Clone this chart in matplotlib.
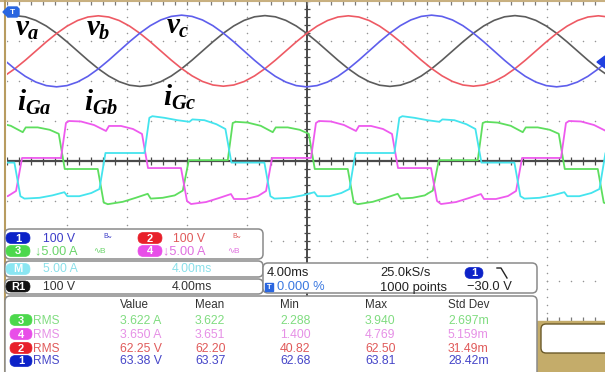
import matplotlib
matplotlib.use("Agg")
import matplotlib.pyplot as plt
import numpy as np
from matplotlib.patches import FancyBboxPatch, Polygon, Rectangle

plt.rcParams["font.family"] = ["Liberation Sans", "DejaVu Sans"]
plt.rcParams["mathtext.fontset"] = "custom"
plt.rcParams["mathtext.it"] = "Liberation Serif:italic:bold"
plt.rcParams["mathtext.rm"] = "Liberation Serif:bold"

# scope settings
time_per_div = 4.0       # ms/div
volt_per_div = 100.0     # V/div
amp_per_div = 5.0        # A/div
volt_offset_div = 2.75   # voltage traces sit 2.75 div above centre
period_ms = 16.667       # 60 Hz

# one period of each phase voltage, every 15 deg starting from its positive peak (V)
va_samples = [88.5, 85.5, 76.6, 62.6, 44.3, 22.9, 0.0, -22.9, -44.3, -62.6, -76.6, -85.5,
              -88.5, -85.5, -76.6, -62.6, -44.3, -22.9, 0.0, 22.9, 44.3, 62.6, 76.6, 85.5]
vb_samples = [88.0, 85.0, 76.2, 62.2, 44.0, 22.8, 0.0, -22.8, -44.0, -62.2, -76.2, -85.0,
              -88.0, -85.0, -76.2, -62.2, -44.0, -22.8, 0.0, 22.8, 44.0, 62.2, 76.2, 85.0]
vc_samples = [89.6, 86.5, 77.6, 63.4, 44.8, 23.2, 0.0, -23.2, -44.8, -63.4, -77.6, -86.5,
              -89.6, -86.5, -77.6, -63.4, -44.8, -23.2, 0.0, 23.2, 44.8, 63.4, 77.6, 86.5]
va_peak_ms = 0.53
vb_peak_ms = 6.09
vc_peak_ms = 11.64

# one period of each grid current, breakpoints from the start of its rising edge (ms, A)
cur_knots_ms = [0.0, 0.33, 0.53, 1.33, 2.2, 3.0, 3.2, 4.0, 4.8, 5.4, 5.8, 8.0, 8.4, 8.67,
                9.67, 10.53, 11.33, 11.53, 12.33, 13.13, 13.67, 14.07, 16.667]
iga_samples = [0.1, 4.75, 4.9, 4.8, 4.4, 3.6, 4.2, 4.2, 3.9, 3.4, -1.0, -1.0, -5.2, -5.4,
               -5.1, -4.6, -4.1, -4.7, -4.6, -4.3, -3.7, 0.1, 0.1]
igb_samples = [0.38, 4.75, 5.0, 4.94, 4.5, 3.75, 4.38, 4.38, 4.0, 3.38, -0.88, -0.88, -5.0,
               -5.38, -5.13, -4.63, -4.13, -4.75, -4.75, -4.38, -3.75, 0.38, 0.38]
igc_samples = [1.0, 5.4, 5.6, 5.4, 5.1, 4.9, 5.2, 5.1, 4.6, 4.0, -0.2, -0.2, -4.4, -4.7,
               -4.6, -4.3, -3.9, -4.4, -4.4, -4.0, -3.5, 1.0, 1.0]
iga_start_ms = -1.95
igb_start_ms = 3.6
igc_start_ms = 9.16

# measurement table
meas_channels = ["3", "4", "2", "1"]
meas_value = ["3.622 A", "3.650 A", "62.25 V", "63.38 V"]
meas_mean = ["3.622", "3.651", "62.20", "63.37"]
meas_min = ["2.288", "1.400", "40.82", "62.68"]
meas_max = ["3.940", "4.769", "62.50", "63.81"]
meas_std = ["2.697m", "5.159m", "31.49m", "28.42m"]

badge_col = {"1": "#0c22c8", "2": "#e8202a", "3": "#4cd84c", "4": "#e84ee8",
             "M": "#8ae6f2", "R1": "#111111"}
text_col = {"1": "#3c3cc8", "2": "#e05a5a", "3": "#6ad46a", "4": "#e070e0",
            "M": "#8ae0ea", "R1": "#333333"}
table_col = {"1": "#4646c8", "2": "#e05a5a", "3": "#80dc80", "4": "#e690e6"}

c_va, c_vb, c_vc = "#5c5c5c", "#ee5a64", "#5e5eec"
c_iga, c_igb, c_igc = "#5ede5e", "#ee5aee", "#44e4ee"
tan = "#c4ac6a"


def tile(t_one, v_one, start, t_end=40.0):
    ts, vs = [], []
    k = -1
    while start + k * period_ms < t_end:
        ts.append(np.asarray(t_one) + start + k * period_ms)
        vs.append(np.asarray(v_one, dtype=float))
        k += 1
    return np.concatenate(ts), np.concatenate(vs)


W, H = 605, 372
fig = plt.figure(figsize=(W / 100, H / 100), dpi=100)
fig.patch.set_facecolor("white")

# ---- scope screen: 10 x 8 divisions ----
ax = fig.add_axes([7 / W, 51 / H, 600 / W, 320 / H])
ax.set_xlim(0, 10 * time_per_div)
ax.set_ylim(-4, 4)
ax.axis("off")
ax.set_zorder(1)

minor_x = np.arange(0, 40.001, 0.2 * time_per_div)
minor_y = np.arange(-4, 4.001, 0.2)
for d in range(1, 10):
    if d == 5:
        continue
    ax.plot(np.full(minor_y.size, d * time_per_div), minor_y, ls="none", marker="o",
            ms=1.1, color="#949494", mew=0)
for d in range(-3, 4):
    if d == 0:
        continue
    ax.plot(minor_x, np.full(minor_x.size, d), ls="none", marker="o", ms=1.1,
            color="#949494", mew=0)

ax.axhline(0, color="#4a4a4a", lw=1.6, zorder=1)
ax.axvline(20, color="#4a4a4a", lw=1.4, zorder=1)
ax.vlines(minor_x, -0.09, 0.09, color="#4a4a4a", lw=0.9)
ax.hlines(minor_y, 20 - 0.22, 20 + 0.22, color="#4a4a4a", lw=0.9)
ax.vlines(minor_x, 3.9, 4.0, color="#7a7a7a", lw=0.9)
ax.vlines(minor_x, -4.0, -3.9, color="#7a7a7a", lw=0.9)

traces_v = [(va_samples, va_peak_ms, c_va), (vb_samples, vb_peak_ms, c_vb),
            (vc_samples, vc_peak_ms, c_vc)]
t_v = np.arange(25) * period_ms / 24
for samples, peak, col in traces_v:
    t, v = tile(t_v, list(samples) + [samples[0]], peak)
    ax.plot(t, v / volt_per_div + volt_offset_div, color=col, lw=1.2, zorder=3)

traces_i = [(iga_samples, iga_start_ms, c_iga), (igb_samples, igb_start_ms, c_igb),
            (igc_samples, igc_start_ms, c_igc)]
for samples, start, col in traces_i:
    t, i = tile(cur_knots_ms, samples, start)
    ax.plot(t, i / amp_per_div, color=col, lw=1.3, zorder=3)

# ---- overlay in pixel coordinates ----
ui = fig.add_axes([0, 0, 1, 1])
ui.set_xlim(0, W)
ui.set_ylim(H, 0)
ui.axis("off")
ui.set_zorder(2)

ui.plot([0, W], [0.7, 0.7], color="#c8b080", lw=1.5)
ui.plot([5, 5], [0, H], color="#b89c60", lw=1.5)

lab = dict(fontsize=21, color="black", va="baseline", ha="left")
ui.text(15, 36, r"$v_a$", **lab)
ui.text(86, 36, r"$v_b$", **lab)
ui.text(166, 34, r"$v_c$", **lab)
ui.text(17, 111, r"$i_{Ga}$", **lab)
ui.text(84, 111, r"$i_{Gb}$", **lab)
ui.text(163, 106, r"$i_{Gc}$", **lab)

# trigger markers
ui.add_patch(Polygon([(3, 12), (8, 7), (17, 7), (19, 9), (19, 15), (17, 17), (8, 17)],
                     closed=True, color="#2a66e0", zorder=5))
ui.text(12.5, 12, "T", color="white", fontsize=6, fontweight="bold", ha="center",
        va="center", zorder=6)
ui.add_patch(Polygon([(597, 62), (605, 56), (605, 68)], closed=True, color="#2040e0", zorder=5))


def rbox(x, y, w, h, fc="white", ec="#8a8a8a", r=5, lw=1.1, z=5):
    ui.add_patch(FancyBboxPatch((x, y), w, h, boxstyle=f"round,pad=0,rounding_size={r}",
                                fc=fc, ec=ec, lw=lw, zorder=z))


def badge(cx, cy, label, w=24, h=11):
    rbox(cx - w / 2, cy - h / 2, w, h, fc=badge_col[label], ec=badge_col[label], r=h / 2,
         lw=0.5, z=6)
    ui.text(cx, cy + 0.5, label, color="white", fontsize=8, fontweight="bold", ha="center",
            va="center", zorder=7)


def label(x, y, s, col, size=8.8, ha="left"):
    ui.text(x, y + 0.5, s, color=col, fontsize=size, ha=ha, va="center", zorder=7)


# channel box
rbox(5, 229, 258, 30)
badge(18, 238, "1")
label(43, 238, "100 V", text_col["1"])
label(103, 236, "B$_{\\mathrm{w}}$", text_col["1"], size=5)
badge(150, 238, "2")
label(173, 238, "100 V", text_col["2"])
label(232, 236, "B$_{\\mathrm{w}}$", text_col["2"], size=5)
badge(18, 251, "3")
label(35, 251, "\u21935.00 A", text_col["3"], size=9.2)
label(93, 251, "\u223fB", text_col["3"], size=6)
badge(150, 251, "4")
label(163, 251, "\u21935.00 A", text_col["4"], size=9.2)
label(227, 251, "\u223fB", text_col["4"], size=6)

rbox(5, 261, 258, 16)
badge(18, 269, "M")
label(43, 269, "5.00 A", text_col["M"])
label(172, 269, "4.00ms", text_col["M"])

rbox(5, 279, 258, 15)
badge(18, 286.5, "R1")
label(43, 286.5, "100 V", text_col["R1"])
label(172, 286.5, "4.00ms", text_col["R1"])

# timebase / trigger box
rbox(263, 263, 274, 30)
label(267, 273, "4.00ms", "#222222", size=9.3)
label(380, 273, "25.0kS/s", "#222222", size=9.3)
badge(474, 273, "1", w=18)
ui.plot([497, 501, 507], [268, 268, 278], color="#222222", lw=1.0, zorder=7)
ui.add_patch(Rectangle((265, 283), 8, 8, color="#2a66e0", zorder=6))
ui.text(269, 287.5, "T", color="white", fontsize=5.5, fontweight="bold", ha="center",
        va="center", zorder=7)
label(277, 287, "0.000 %", "#3a78e0", size=9.3)
label(380, 287, "1000 points", "#222222", size=9.3)
label(467, 287, "\u221230.0 V", "#222222", size=9.3)

# measurement table
rbox(5, 296, 532, 90)
heads = [("Value", 120), ("Mean", 195), ("Min", 280), ("Max", 365), ("Std Dev", 448)]
for s, x in heads:
    label(x, 304, s, "#333333", size=8.4)
row_y = [320, 334, 348, 361]
for k, ch in enumerate(meas_channels):
    y = row_y[k]
    col = table_col[ch]
    badge(21, y, ch, w=22, h=11)
    label(33, y, "RMS", col, size=8.6)
    label(120, y, meas_value[k], col, size=8.8)
    label(195, y, meas_mean[k], col, size=8.8)
    label(280, y, meas_min[k], col, size=8.8)
    label(365, y, meas_max[k], col, size=8.8)
    label(448, y, meas_std[k], col, size=8.8)

# bottom-right corner panel
ui.add_patch(Rectangle((537, 321), 70, 60, color=tan, zorder=4))
rbox(541, 324, 70, 29, fc="white", ec="#6b5a2a", r=5, lw=1.0, z=5)

fig.savefig("out.png", dpi=100)
